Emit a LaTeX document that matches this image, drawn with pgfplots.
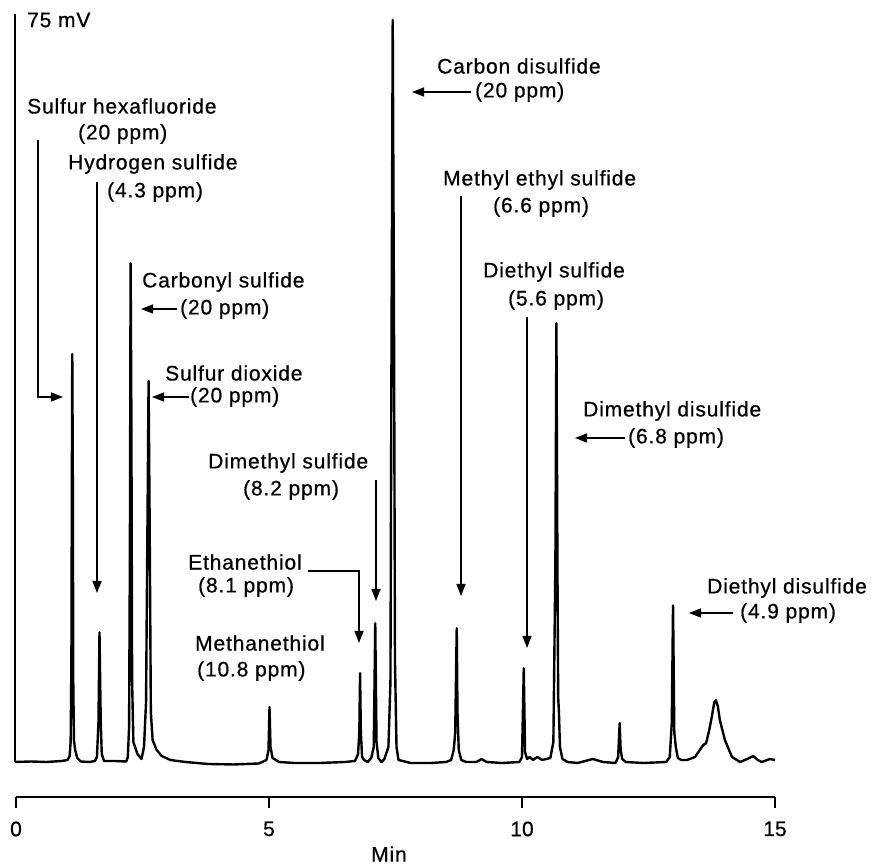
\documentclass[border=0pt]{standalone}
\usepackage{pgfplots}
\pgfplotsset{compat=1.18}
\usepackage{fontspec}
\setmainfont[LetterSpace=4,FakeBold=0.6]{Liberation Sans}
\newfontfamily\tickfont[FakeBold=0.6]{Liberation Sans}
\usetikzlibrary{arrows.meta}
\begin{document}
\begin{tikzpicture}
\begin{scope}[x=1pt,y=-1pt,shift={(-16pt,797pt)}]
\path[use as bounding box] (0,0) rectangle (871,868);
\end{scope}
\begin{axis}[
  at={(0,0)}, anchor=south west,
  scale only axis, width=759pt, height=783pt,
  xmin=0, xmax=15, ymin=-3.51, ymax=75,
  axis x line=bottom, axis y line=none,
  axis line style={line width=2pt,-},
  xtick={0,5,10,15}, ytick=\empty,
  tick align=outside, major tick length=11pt,
  tick style={line width=2pt,black},
  /pgf/number format/assume math mode=true,
  xticklabel style={font=\tickfont\fontsize{21}{24}\selectfont, yshift=-10pt},
  clip=false,
]
\addplot[line width=2pt, black] coordinates {(-0.02,0) (-0.02,75)};
\addplot[line width=2.4pt, black, line join=round] coordinates {
(-0.02,0.0) (0.3,0.05) (0.6,0.0) (0.9,0.1) (1.02,0.2) (1.06,0.6) (1.08,2.0) (1.095,10) (1.105,30) (1.112,40.9) (1.122,30) (1.132,8) (1.145,2.2) (1.17,1.2) (1.21,0.4) (1.28,0.05) (1.45,0.0)
(1.56,0.1) (1.60,0.5) (1.63,4) (1.65,13.0) (1.675,4) (1.695,0.8) (1.74,0.1) (1.95,0.1)
(2.18,0.05) (2.21,0.5) (2.235,3.5) (2.25,20) (2.265,50.0) (2.28,35) (2.295,8) (2.32,2) (2.40,0.8) (2.48,0.3)
(2.53,1.5) (2.57,6) (2.60,25) (2.62,38.2) (2.64,25) (2.665,5) (2.70,2.2) (2.78,1.2) (2.88,0.6) (3.05,0.2) (3.35,0.0)
(3.8,-0.2) (4.3,-0.25) (4.8,-0.15) (4.95,0.2) (4.99,1.2) (5.01,5.5) (5.03,1.5) (5.07,0.4) (5.2,0.0)
(5.5,-0.1) (6.0,-0.1) (6.5,0.0) (6.70,0.1) (6.76,0.8) (6.785,3) (6.80,8.9) (6.815,3) (6.84,0.5) (6.88,0.2) (6.95,0.0)
(7.02,0.4) (7.07,1.5) (7.10,13.9) (7.125,2) (7.16,0.4) (7.22,0.0) (7.28,0.3) (7.36,1.5) (7.40,8) (7.42,40) (7.445,74.4) (7.47,45) (7.49,10) (7.52,1.5) (7.56,0.2)
(7.8,-0.1) (8.2,-0.1) (8.5,0.0) (8.60,0.2) (8.65,1.2) (8.68,2.9) (8.70,10) (8.71,13.4) (8.725,5) (8.75,1.2) (8.80,0.2) (8.9,0.0)
(9.1,0.0) (9.2,0.3) (9.3,0.0) (9.6,-0.1) (9.95,0.0) (10.00,0.5) (10.035,9.4) (10.06,1.0) (10.1,0.3) (10.15,0.5) (10.22,0.2) (10.3,0.5) (10.4,0.2)
(10.56,0.4) (10.62,2) (10.66,20) (10.68,44.0) (10.70,20) (10.715,6.5) (10.73,5) (10.75,1.5) (10.80,0.3) (10.9,0.0)
(11.1,-0.1) (11.4,0.3) (11.6,0.0) (11.85,-0.1) (11.90,0.5) (11.93,3.9) (11.95,1.2) (11.98,0.3) (12.05,0.0) (12.4,-0.1)
(12.85,0.0) (12.92,0.5) (12.96,3.9) (12.985,15.7) (13.01,3) (13.04,1.5) (13.08,0.4) (13.15,0.2) (13.26,0.2)
(13.42,0.5) (13.58,1.7) (13.64,1.9) (13.70,3.2) (13.75,4.5) (13.80,6.0) (13.83,6.2) (13.87,5.6) (13.91,4.2) (14.01,2.2) (14.15,0.5) (14.31,0.0)
(14.45,0.3) (14.57,0.6) (14.66,0.2) (14.74,0.0) (14.90,0.3) (15.0,0.2)
};
\end{axis}
\begin{scope}[x=1pt,y=-1pt,shift={(-16pt,797pt)},
  every node/.style={font=\fontsize{21}{23}\selectfont, inner sep=0pt},
  arr/.style={line width=1.4pt,-{Triangle[length=12pt,width=9pt]}}]
\node[anchor=west] at (27,20) {75 mV};
\node[anchor=west] at (27,106) {Sulfur hexafluoride};
\node[anchor=west] at (78,134) {(20 ppm)};
\draw[arr] (38,140) -- (38,397) -- (63,397);
\node[anchor=west] at (68,164) {Hydrogen sulfide};
\node[anchor=west] at (107,192) {(4.3 ppm)};
\draw[arr] (97,182) -- (97,593);
\node[anchor=west] at (142,282) {Carbonyl sulfide};
\node[anchor=west] at (180,309) {(20 ppm)};
\draw[arr] (177,309) -- (141,309);
\node[anchor=west] at (165,373) {Sulfur dioxide};
\node[anchor=west] at (190,397) {(20 ppm)};
\draw[arr] (189,397) -- (152,397);
\node[anchor=west] at (437,66) {Carbon disulfide};
\node[anchor=west] at (475,92) {(20 ppm)};
\draw[arr] (471,92) -- (412,92);
\node[anchor=west] at (443,180) {Methyl ethyl sulfide};
\node[anchor=west] at (493,207) {(6.6 ppm)};
\draw[arr] (461,196) -- (461,596);
\node[anchor=west] at (483,272) {Diethyl sulfide};
\node[anchor=west] at (508,300) {(5.6 ppm)};
\draw[arr] (527,317) -- (527,648);
\node[anchor=west] at (583,411) {Dimethyl disulfide};
\node[anchor=west] at (628,438) {(6.8 ppm)};
\draw[arr] (625,438) -- (575,438);
\node[anchor=west] at (208,463) {Dimethyl sulfide};
\node[anchor=west] at (243,490) {(8.2 ppm)};
\draw[arr] (376,480) -- (376,601);
\node[anchor=west] at (188,562) {Ethanethiol};
\node[anchor=west] at (198,587) {(8.1 ppm)};
\draw[arr] (308,571) -- (359,571) -- (359,643);
\node[anchor=west] at (195,643) {Methanethiol};
\node[anchor=west] at (197,671) {(10.8 ppm)};
\node[anchor=west] at (707,588) {Diethyl disulfide};
\node[anchor=west] at (740,613) {(4.9 ppm)};
\draw[arr] (733,613) -- (689,613);
\node at (389,854) {Min};
\end{scope}
\end{tikzpicture}
\end{document}
